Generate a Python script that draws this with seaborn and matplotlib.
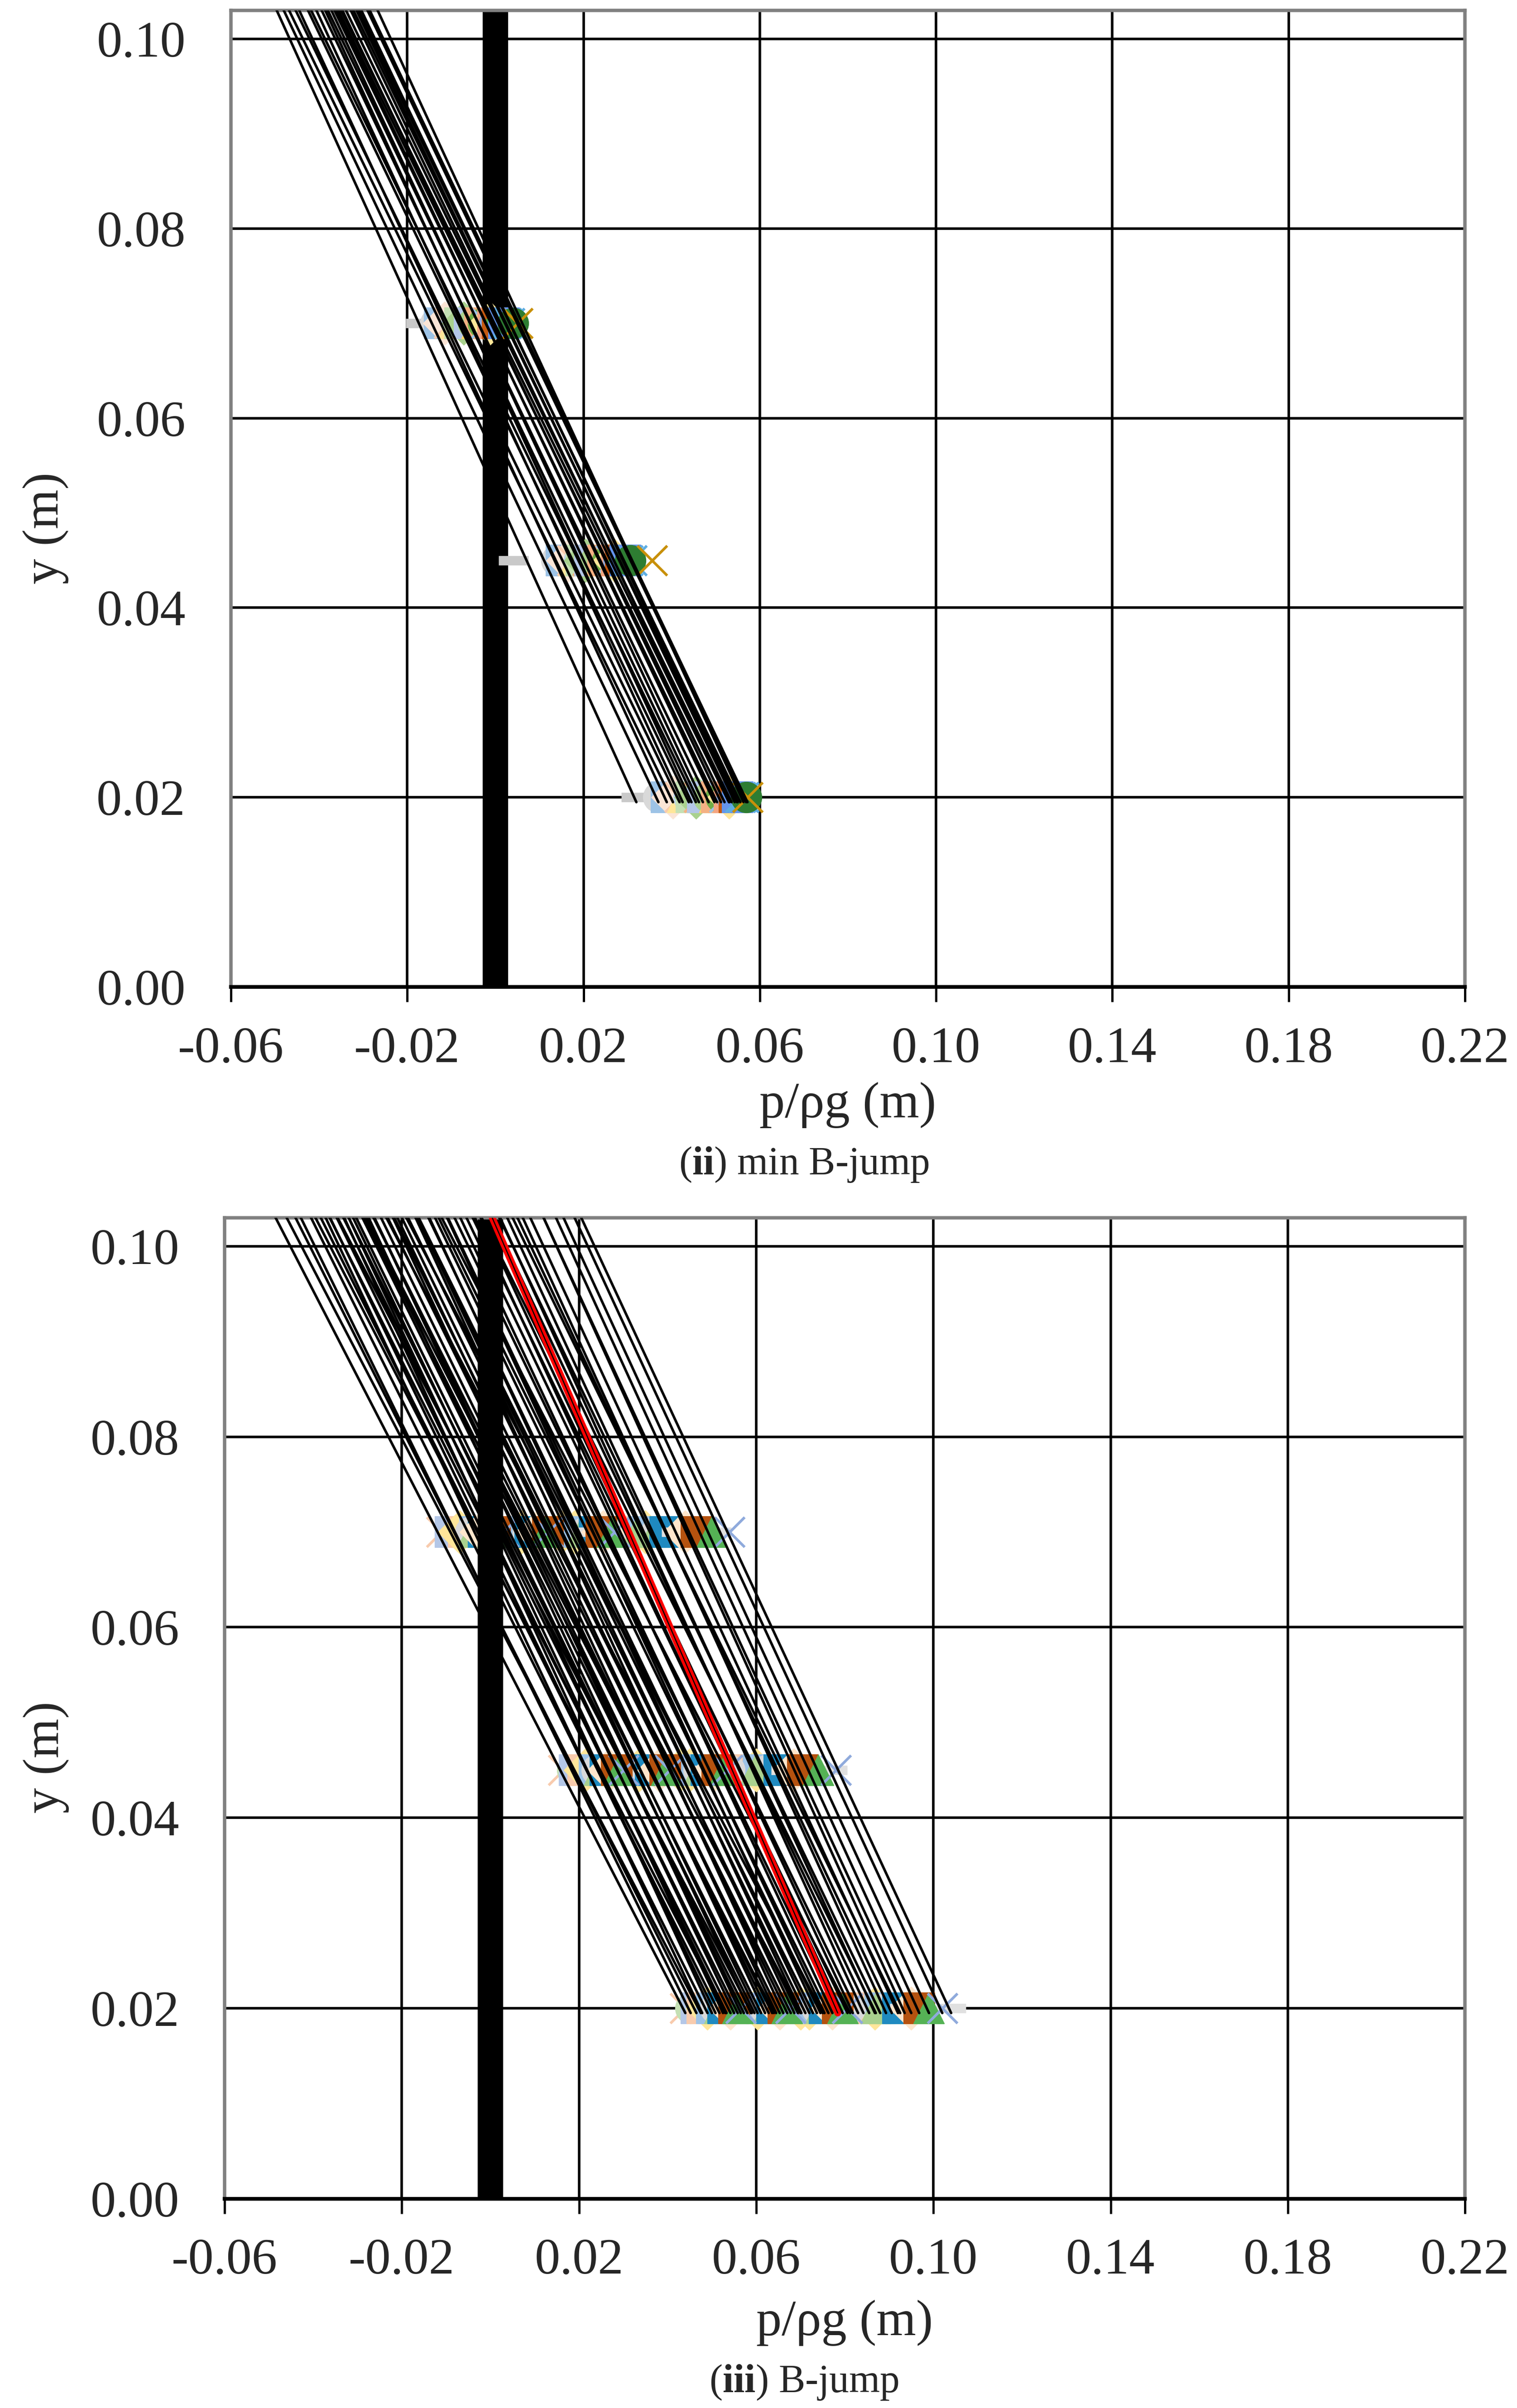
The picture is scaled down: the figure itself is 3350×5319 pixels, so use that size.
import pandas as pd
import matplotlib
matplotlib.use("Agg")
import matplotlib.pyplot as plt
from matplotlib.ticker import FormatStrFormatter
import seaborn as sns

# tapping heights (m) and the y-range of the trend lines
levels = [0.02, 0.045, 0.07]
line_y = [0.0195, 0.103]
wall_x = 0.0

xticks = [-0.06, -0.02, 0.02, 0.06, 0.10, 0.14, 0.18, 0.22]
yticks = [0.00, 0.02, 0.04, 0.06, 0.08, 0.10]

# (ii) min B-jump : p/rho g at each tap, one entry per run
ii_x020 = [0.0320, 0.0370, 0.0389, 0.0403, 0.0418, 0.0425, 0.0439, 0.0445, 0.0455, 0.0462,
           0.0471, 0.0484, 0.0497, 0.0503, 0.0512, 0.0520, 0.0530, 0.0531, 0.0536, 0.0543,
           0.0548, 0.0550, 0.0556, 0.0563, 0.0569, 0.0572]
ii_x045 = [0.0041, 0.0139, 0.0150, 0.0165, 0.0175, 0.0180, 0.0190, 0.0195, 0.0205, 0.0210,
           0.0215, 0.0228, 0.0240, 0.0245, 0.0255, 0.0262, 0.0270, 0.0275, 0.0280, 0.0285,
           0.0290, 0.0295, 0.0300, 0.0309, 0.0306, 0.0356]
ii_x070 = [-0.0169, -0.0135, -0.0126, -0.0115, -0.0105, -0.0095, -0.0088, -0.0080, -0.0072, -0.0065,
           -0.0058, -0.0050, -0.0042, -0.0035, -0.0028, -0.0020, -0.0012, -0.0005, -0.0002, 0.0005,
           0.0012, 0.0020, 0.0025, 0.0032, 0.0040, 0.0050]
ii_top = [-0.0496, -0.0480, -0.0445, -0.0468, -0.0453, -0.0406, -0.0425, -0.0386, -0.0418, -0.0394,
          -0.0372, -0.0380, -0.0360, -0.0365, -0.0347, -0.0356, -0.0350, -0.0328, -0.0339, -0.0315,
          -0.0322, -0.0304, -0.0310, -0.0267, -0.0290, -0.0285]

# (iii) B-jump
iii_x020 = [0.0440, 0.0452, 0.0465, 0.0478, 0.0490, 0.0500, 0.0508, 0.0517, 0.0525, 0.0533,
            0.0542, 0.0550, 0.0558, 0.0565, 0.0572, 0.0580, 0.0588, 0.0596, 0.0603, 0.0611,
            0.0620, 0.0628, 0.0636, 0.0645, 0.0653, 0.0661, 0.0670, 0.0678, 0.0686, 0.0694,
            0.0702, 0.0711, 0.0720, 0.0728, 0.0737, 0.0745, 0.0754, 0.0763, 0.0772, 0.0784,
            0.0795, 0.0806, 0.0818, 0.0830, 0.0842, 0.0855, 0.0868, 0.0880, 0.0893, 0.0906,
            0.0920, 0.0935, 0.0950, 0.0968, 0.0990, 0.1020,
            0.0475, 0.0530, 0.0590, 0.0640, 0.0700, 0.0750, 0.0812, 0.0870, 0.0925, 0.1040]
iii_x045 = [0.0165, 0.0185, 0.0190, 0.0210, 0.0215, 0.0235, 0.0240, 0.0245, 0.0260, 0.0262,
            0.0268, 0.0285, 0.0290, 0.0300, 0.0302, 0.0310, 0.0322, 0.0325, 0.0335, 0.0340,
            0.0352, 0.0355, 0.0362, 0.0378, 0.0380, 0.0395, 0.0398, 0.0405, 0.0420, 0.0420,
            0.0435, 0.0438, 0.0450, 0.0452, 0.0470, 0.0470, 0.0488, 0.0490, 0.0505, 0.0512,
            0.0528, 0.0535, 0.0550, 0.0558, 0.0575, 0.0582, 0.0600, 0.0605, 0.0625, 0.0630,
            0.0652, 0.0668, 0.0685, 0.0705, 0.0740, 0.0780,
            0.0200, 0.0255, 0.0318, 0.0370, 0.0428, 0.0480, 0.0540, 0.0598, 0.0660, 0.0772]
iii_x070 = [-0.0110, -0.0085, -0.0090, -0.0060, -0.0070, -0.0035, -0.0045, -0.0040, -0.0015, -0.0025,
            -0.0020, 0.0010, 0.0005, 0.0030, 0.0020, 0.0035, 0.0055, 0.0045, 0.0070, 0.0060,
            0.0085, 0.0080, 0.0090, 0.0115, 0.0105, 0.0130, 0.0125, 0.0130, 0.0160, 0.0150,
            0.0175, 0.0170, 0.0190, 0.0185, 0.0215, 0.0205, 0.0235, 0.0225, 0.0255, 0.0250,
            0.0275, 0.0280, 0.0300, 0.0295, 0.0325, 0.0320, 0.0350, 0.0345, 0.0375, 0.0370,
            0.0400, 0.0420, 0.0440, 0.0465, 0.0500, 0.0540,
            -0.0075, -0.0010, 0.0050, 0.0100, 0.0160, 0.0215, 0.0270, 0.0330, 0.0395, 0.0510]
iii_top = [-0.0485, -0.0428, -0.0440, -0.0372, -0.0405, -0.0330, -0.0362, -0.0383, -0.0320, -0.0347,
           -0.0363, -0.0310, -0.0332, -0.0275, -0.0303, -0.0320, -0.0262, -0.0289, -0.0262, -0.0284,
           -0.0220, -0.0247, -0.0264, -0.0210, -0.0232, -0.0169, -0.0200, -0.0217, -0.0164, -0.0186,
           -0.0138, -0.0164, -0.0140, -0.0162, -0.0098, -0.0125, -0.0096, -0.0117, -0.0068, -0.0081,
           -0.0035, -0.0054, -0.0022, -0.0040, 0.0022, 0.0005, 0.0038, 0.0020, 0.0073, 0.0061,
           0.0090, 0.0120, 0.0120, 0.0148, 0.0165, 0.0190,
           -0.0460, -0.0395, -0.0345, -0.0280, -0.0235, -0.0190, -0.0110, -0.0020, 0.0050, 0.0205]
# highlighted run in (iii)
red_x = [0.0784, 0.0004]

# marker / colour of each run (Excel-like styles)
ii_styles = [('_', '#C9C9C9'), ('o', '#D9D9D9'), ('s', '#9DC3E6'), ('D', '#FBE5D6'), ('x', '#F8CBAD'),
             ('^', '#FFE699'), ('o', '#BDD7EE'), ('s', '#C5E0B4'), ('D', '#A9D18E'), ('x', '#F4B183'),
             ('s', '#B4C7E7'), ('o', '#A9D18E'), ('^', '#FFD966'), ('s', '#F4B183'), ('o', '#70AD47'),
             ('x', '#9DC3E6'), ('D', '#FFE699'), ('s', '#F4A582'), ('o', '#8FAADC'), ('s', '#C55A11'),
             ('_', '#4DAF4A'), ('s', '#6495ED'), ('x', '#5DADE2'), ('x', '#5DADE2'), ('o', '#2E7D32'),
             ('x', '#C8900A')]
iii_cycle = [('x', '#F8CBAD'), ('o', '#C5E0B4'), ('s', '#B4C7E7'), ('s', '#F8CBAD'), ('D', '#FFE699'),
             ('s', '#9DC3E6'), ('o', '#D9D9D9'), ('^', '#A9D18E'), ('s', '#1F8AC0'), ('_', '#E0E0E0'),
             ('D', '#FFE6CC'), ('s', '#B5520F'), ('^', '#55B255'), ('x', '#8FAADC')]
iii_styles = [iii_cycle[i % len(iii_cycle)] for i in range(len(iii_x020))]

sns.set_style("white")
plt.rcParams['font.family'] = ['Liberation Serif', 'DejaVu Serif']
plt.rcParams['mathtext.fontset'] = 'custom'
plt.rcParams['mathtext.rm'] = 'Liberation Serif'
plt.rcParams['mathtext.bf'] = 'Liberation Serif:bold'
plt.rcParams['axes.unicode_minus'] = False

FS = 27


def draw_panel(ax, x020, x045, x070, tops, styles, wall_on_top):
    # markers at the three taps
    rows = []
    for i, (m, c) in enumerate(styles):
        for lv, xs in zip(levels, (x020, x045, x070)):
            rows.append({'run': i, 'x': xs[i], 'y': lv, 'marker': m, 'color': c})
    mk = pd.DataFrame(rows)
    for (m, c), grp in mk.groupby(['marker', 'color'], sort=False):
        if m in ('x', '_', '+'):
            sns.scatterplot(data=grp, x='x', y='y', marker=m, color=c, s=250,
                            linewidth=5 if m == '_' else 1.4, ax=ax, zorder=2, legend=False)
        else:
            sns.scatterplot(data=grp, x='x', y='y', marker=m, color=c, s=260,
                            edgecolor=c, linewidth=0.5, ax=ax, zorder=2, legend=False)

    # linear trend lines
    lines = pd.DataFrame({'run': [i for i in range(len(tops)) for _ in line_y],
                          'x': [v for a, b in zip(x020, tops) for v in (a, b)],
                          'y': line_y * len(tops)})
    sns.lineplot(data=lines, x='x', y='y', units='run', estimator=None, sort=False,
                 color='black', linewidth=1.35, ax=ax, zorder=3, legend=False)

    ax.axvline(wall_x, color='black', linewidth=13.5, zorder=2.5 if wall_on_top else 1.5)

    ax.set_xlim(-0.06, 0.22)
    ax.set_ylim(0, 0.103)
    ax.set_xticks(xticks)
    ax.set_yticks(yticks)
    ax.xaxis.set_major_formatter(FormatStrFormatter('%.2f'))
    ax.yaxis.set_major_formatter(FormatStrFormatter('%.2f'))
    ax.grid(True, color='black', linewidth=1.35)
    ax.set_axisbelow(True)
    ax.tick_params(axis='x', bottom=True, direction='out', length=8, width=1.2,
                   color='black', pad=13, labelsize=FS)
    ax.tick_params(axis='y', length=0, pad=24, labelsize=FS)
    for s in ('top', 'left', 'right'):
        ax.spines[s].set_color('#808080')
        ax.spines[s].set_linewidth(1.8)
    ax.spines['bottom'].set_color('black')
    ax.spines['bottom'].set_linewidth(2.0)
    ax.set_xlabel('p/ρg (m)', fontsize=FS, va='center')
    ax.set_ylabel('y (m)', fontsize=FS, va='center')


fig = plt.figure(figsize=(3350 / 300, 5319 / 300))

ax1 = fig.add_axes([0.1522, 0.5901, 0.8135, 0.4056])
draw_panel(ax1, ii_x020, ii_x045, ii_x070, ii_top, ii_styles, wall_on_top=False)
ax1.xaxis.set_label_coords(0.5, -0.121)
ax1.yaxis.set_label_coords(-0.150, 0.47)

ax2 = fig.add_axes([0.1481, 0.0869, 0.8176, 0.4074])
draw_panel(ax2, iii_x020, iii_x045, iii_x070, iii_top, iii_styles, wall_on_top=True)
sns.lineplot(x=red_x, y=line_y, sort=False, estimator=None, color='#FF0000', linewidth=3.6,
             solid_capstyle='round', ax=ax2, zorder=3.5)
sns.lineplot(x=red_x, y=line_y, sort=False, estimator=None, color='black', linewidth=0.6,
             ax=ax2, zorder=3.6)
ax2.xaxis.set_label_coords(0.5, -0.1265)
ax2.yaxis.set_label_coords(-0.144, 0.45)

fig.text(0.530, 0.5163, r'($\mathbf{ii}$) min B-jump', ha='center', va='center', fontsize=21)
fig.text(0.530, 0.0106, r'($\mathbf{iii}$) B-jump', ha='center', va='center', fontsize=21)

fig.savefig('out.png', dpi=300)
